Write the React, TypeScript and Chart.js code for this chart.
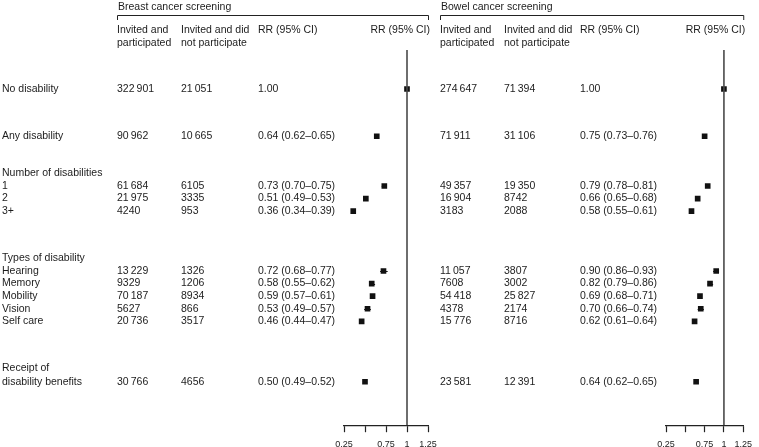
import React, { useEffect, useRef } from 'react';
import { Chart, registerables } from 'chart.js';
Chart.register(...registerables);

const W = 759;
const H = 447;

const rowLabels = ['No disability', 'Any disability', 'Number of disabilities', '1', '2', '3+', 'Types of disability', 'Hearing', 'Memory', 'Mobility', 'Vision', 'Self care', 'Receipt of', 'disability benefits'];
const rowGaps = [3.1, 3.75, 2.95, 1, 1, 1, 3.75, 1, 1, 1, 1, 1, 3.75, 1.05];

const breastParticipated = [322901, 90962, null, 61684, 21975, 4240, null, 13229, 9329, 70187, 5627, 20736, null, 30766];
const breastNotParticipated = [21051, 10665, null, 6105, 3335, 953, null, 1326, 1206, 8934, 866, 3517, null, 4656];
const breastRR = [1.0, 0.64, null, 0.73, 0.51, 0.36, null, 0.72, 0.58, 0.59, 0.53, 0.46, null, 0.5];
const breastLo = [null, 0.62, null, 0.7, 0.49, 0.34, null, 0.68, 0.55, 0.57, 0.49, 0.44, null, 0.49];
const breastHi = [null, 0.65, null, 0.75, 0.53, 0.39, null, 0.77, 0.62, 0.61, 0.57, 0.47, null, 0.52];

const bowelParticipated = [274647, 71911, null, 49357, 16904, 3183, null, 11057, 7608, 54418, 4378, 15776, null, 23581];
const bowelNotParticipated = [71394, 31106, null, 19350, 8742, 2088, null, 3807, 3002, 25827, 2174, 8716, null, 12391];
const bowelRR = [1.0, 0.75, null, 0.79, 0.66, 0.58, null, 0.9, 0.82, 0.69, 0.7, 0.62, null, 0.64];
const bowelLo = [null, 0.73, null, 0.78, 0.65, 0.55, null, 0.86, 0.79, 0.68, 0.66, 0.61, null, 0.62];
const bowelHi = [null, 0.76, null, 0.81, 0.68, 0.61, null, 0.93, 0.86, 0.71, 0.74, 0.64, null, 0.65];

const xTicks = [0.25, 0.5, 0.75, 1, 1.25];
const xTickLabels = ['0.25', '', '0.75', '1', '1.25'];
const headerLines = [['Invited and', 'participated'], ['Invited and did', 'not participate'], ['RR (95% CI)']];
const rrHeader = 'RR (95% CI)';

const rowPos: number[] = [];
rowGaps.reduce((acc, g) => {
  const v = acc + g;
  rowPos.push(v);
  return v;
}, 0);
const Y_MAX = 29.8;

const FONT = '10.5px "Liberation Sans", Arial, Helvetica, sans-serif';
const TEXT = '#1c1c1c';

function fmtCount(n: number | null) {
  if (n == null) return '';
  if (n < 10000) return String(n);
  return String(n).replace(/\B(?=(\d{3})+(?!\d))/g, '\u2009');
}
function fmtRR(rr: number | null, lo: number | null, hi: number | null) {
  if (rr == null) return '';
  if (lo == null || hi == null) return rr.toFixed(2);
  return `${rr.toFixed(2)} (${lo.toFixed(2)}\u2013${hi.toFixed(2)})`;
}

type Panel = {
  title: string;
  cols: number[];
  padLeft: number;
  padRight: number;
  showLabels: boolean;
  part: (number | null)[];
  nonPart: (number | null)[];
  rr: (number | null)[];
  lo: (number | null)[];
  hi: (number | null)[];
};

const panels: Panel[] = [
  { title: 'Breast cancer screening', cols: [117, 181, 258], padLeft: 344, padRight: 331, showLabels: true, part: breastParticipated, nonPart: breastNotParticipated, rr: breastRR, lo: breastLo, hi: breastHi },
  { title: 'Bowel cancer screening', cols: [440, 504, 580], padLeft: 666, padRight: 9, showLabels: false, part: bowelParticipated, nonPart: bowelNotParticipated, rr: bowelRR, lo: bowelLo, hi: bowelHi },
];

function makePlugin(p: Panel) {
  return {
    id: 'forestText',
    beforeDatasetsDraw(chart: any) {
      const ctx = chart.ctx;
      const xs = chart.scales.x;
      const ys = chart.scales.y;
      ctx.save();
      ctx.strokeStyle = '#111';
      ctx.lineWidth = 1;
      p.rr.forEach((_, i) => {
        const lo = p.lo[i];
        const hi = p.hi[i];
        if (lo == null || hi == null) return;
        const y = Math.round(ys.getPixelForValue(rowPos[i])) + 0.5;
        ctx.beginPath();
        ctx.moveTo(xs.getPixelForValue(lo), y);
        ctx.lineTo(xs.getPixelForValue(hi), y);
        ctx.stroke();
      });
      ctx.restore();
    },
    afterDraw(chart: any) {
      const ctx = chart.ctx;
      const ys = chart.scales.y;
      const area = chart.chartArea;
      ctx.save();
      ctx.font = FONT;
      ctx.fillStyle = TEXT;
      ctx.textBaseline = 'middle';
      ctx.textAlign = 'left';
      ctx.fillText(p.title, p.cols[0] + 1, 7);
      ctx.strokeStyle = '#222';
      ctx.lineWidth = 1;
      ctx.beginPath();
      ctx.moveTo(p.cols[0] + 0.5, 20);
      ctx.lineTo(p.cols[0] + 0.5, 15.5);
      ctx.lineTo(area.right + 0.5, 15.5);
      ctx.lineTo(area.right + 0.5, 20);
      ctx.stroke();
      headerLines.forEach((lines, c) => {
        lines.forEach((t, k) => ctx.fillText(t, p.cols[c], 30 + k * 13));
      });
      ctx.textAlign = 'right';
      ctx.fillText(rrHeader, area.right + 2, 30);
      ctx.textAlign = 'left';
      rowLabels.forEach((lab, i) => {
        const y = ys.getPixelForValue(rowPos[i]);
        if (p.showLabels) ctx.fillText(lab, 2, y);
        ctx.fillText(fmtCount(p.part[i]), p.cols[0], y);
        ctx.fillText(fmtCount(p.nonPart[i]), p.cols[1], y);
        ctx.fillText(fmtRR(p.rr[i], p.lo[i], p.hi[i]), p.cols[2], y);
      });
      ctx.restore();
    },
  };
}

function PanelChart({ p }: { p: Panel }) {
  const ref = useRef<HTMLCanvasElement | null>(null);
  useEffect(() => {
    if (!ref.current) return;
    const points = p.rr
      .map((v, i) => (v == null ? null : { x: v, y: rowPos[i] }))
      .filter((d) => d != null);
    const chart = new Chart(ref.current, {
      type: 'scatter',
      data: {
        datasets: [
          {
            data: [{ x: 1, y: 0 }, { x: 1, y: Y_MAX }],
            showLine: true,
            borderColor: '#4a4a4a',
            borderWidth: 1.6,
            pointRadius: 0,
          } as any,
          {
            data: points as any,
            pointStyle: 'rect',
            pointRadius: 4,
            backgroundColor: '#111',
            borderWidth: 0,
          },
        ],
      },
      options: {
        animation: false,
        responsive: false,
        devicePixelRatio: 1,
        layout: { padding: { left: p.padLeft, right: p.padRight, top: 50, bottom: -10 } },
        plugins: { legend: { display: false }, tooltip: { enabled: false } },
        scales: {
          x: {
            type: 'linear',
            min: 0.25,
            max: 1.25,
            afterBuildTicks: (axis: any) => {
              axis.ticks = xTicks.map((v) => ({ value: v }));
            },
            ticks: {
              autoSkip: false,
              maxRotation: 0,
              padding: 7,
              color: TEXT,
              font: { family: '"Liberation Sans", Arial, sans-serif', size: 9 },
              callback: (_v: any, idx: number) => xTickLabels[idx],
            },
            grid: { drawOnChartArea: false, drawTicks: true, tickLength: 7, tickColor: '#222', tickWidth: 1.2 },
            border: { display: true, color: '#222', width: 1.2 },
          },
          y: {
            type: 'linear',
            display: false,
            reverse: true,
            min: 0,
            max: Y_MAX,
          },
        },
      },
      plugins: [makePlugin(p)],
    });
    return () => chart.destroy();
  }, [p]);
  return <canvas ref={ref} width={W} height={H} style={{ position: 'absolute', left: 0, top: 0, width: W, height: H }} />;
}

export default function App() {
  return (
    <div style={{ position: 'absolute', left: 0, top: 0, width: W, height: H, background: '#fff', overflow: 'hidden' }}>
      {panels.map((p) => (
        <PanelChart key={p.title} p={p} />
      ))}
    </div>
  );
}
